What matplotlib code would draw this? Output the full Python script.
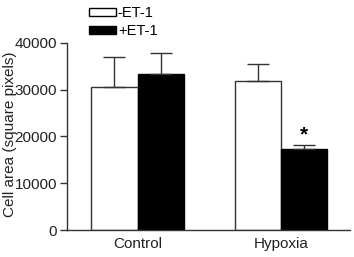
import matplotlib
matplotlib.use("Agg")
import matplotlib.pyplot as plt
import numpy as np
from matplotlib.patches import Patch

plt.rcParams['font.family'] = ['Liberation Sans', 'DejaVu Sans']

categories = ["Control", "Hypoxia"]
series_names = ["-ET-1", "+ET-1"]
minus_et1 = [30500, 31900]
minus_err = [6500, 3500]
plus_et1 = [33400, 17300]
plus_err = [4400, 950]
yticks = [0, 10000, 20000, 30000, 40000]

fs = 11
fig = plt.figure(figsize=(3.54, 2.57), dpi=100)
ax = fig.add_axes([0.189, 0.105, 0.8, 0.728])

centers = np.array([0, 3.1])
w = 1.0
ekw = dict(elinewidth=1.0, capthick=1.0, ecolor='#333333')
ax.bar(centers - w/2, minus_et1, width=w, color='white', edgecolor='#333333', linewidth=1.0,
       yerr=[[0, 0], minus_err], capsize=8, error_kw=ekw, zorder=2)
ax.bar(centers + w/2, plus_et1, width=w, color='black', edgecolor='black', linewidth=1.0,
       yerr=[[0, 0], plus_err], capsize=8, error_kw=ekw, zorder=2)
ax.text(centers[1] + w/2, plus_et1[1] + plus_err[1] + 100, "*", ha='center', va='bottom',
        fontsize=15, fontweight='bold')

ax.set_xlim(-1.53, 4.6)
ax.set_ylim(0, 40000)
ax.set_yticks(yticks)
ax.set_yticklabels([str(t) for t in yticks], fontsize=fs, color='#222222')
ax.set_xticks(centers)
ax.set_xticklabels(categories, fontsize=fs, color='#222222')
ax.tick_params(axis='x', length=0, pad=5)
ax.tick_params(axis='y', length=5, width=1.0, color='#333333', pad=2)
for s in ['top', 'right']:
    ax.spines[s].set_visible(False)
for s in ['left', 'bottom']:
    ax.spines[s].set_linewidth(1.0)
    ax.spines[s].set_color('#333333')
ax.set_ylabel("Cell area (square pixels)", fontsize=fs, color='#222222')
ax.yaxis.set_label_coords(-0.177, 0.513)

handles = [Patch(facecolor='white', edgecolor='black', linewidth=1.0),
           Patch(facecolor='black', edgecolor='black', linewidth=1.0)]
fig.legend(handles, series_names, loc='upper left', bbox_to_anchor=(0.234, 1.0),
           frameon=False, fontsize=10.5, handlelength=1.85, handleheight=0.45,
           handletextpad=0.15, labelspacing=0.32, borderaxespad=0)

fig.savefig("out.png", dpi=100)
